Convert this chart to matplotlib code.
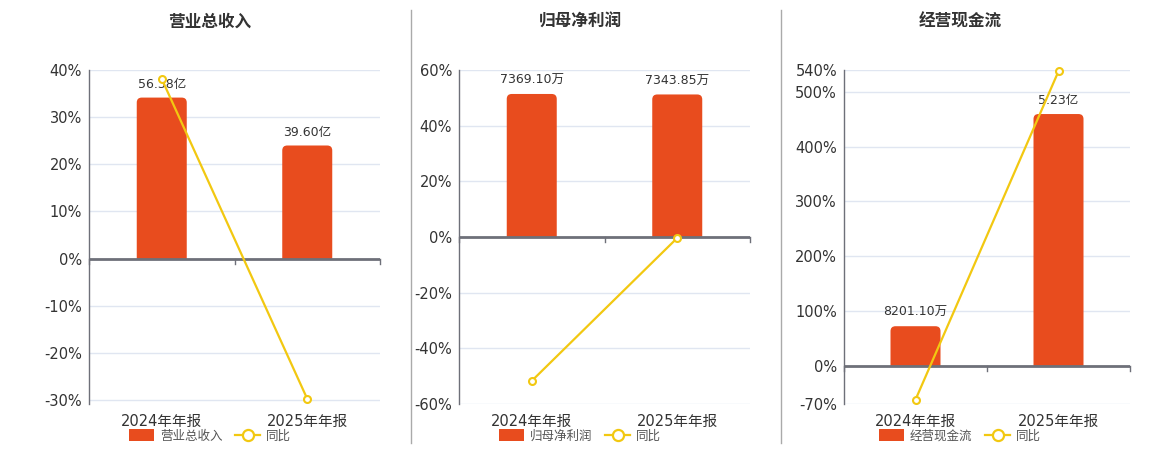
import numpy as np
import matplotlib
matplotlib.use("Agg")
import matplotlib.pyplot as plt
from matplotlib.patches import FancyBboxPatch, Rectangle
from matplotlib.lines import Line2D

plt.rcParams['font.family'] = ['DejaVu Sans', 'Noto Sans CJK SC']

categories = ["2024年年报", "2025年年报"]

# values in 万元
revenue = [563800.0, 396000.0]
revenue_labels = ["56.38亿", "39.60亿"]
revenue_yoy = [38.1, -29.76]

profit = [7369.10, 7343.85]
profit_labels = ["7369.10万", "7343.85万"]
profit_yoy = [-51.7, -0.34]

cashflow = [8201.10, 52300.0]
cashflow_labels = ["8201.10万", "5.23亿"]
cashflow_yoy = [-62.1, 537.7]

titles = ["营业总收入", "归母净利润", "经营现金流"]

BAR = "#E84C1E"
LINE = "#F2C811"
GRID = "#E0E6F1"
AXIS = "#6E7079"
TXT = "#333333"

W, H = 1160, 450
fig = plt.figure(figsize=(W / 100, H / 100), dpi=100)

panels = [
    dict(name=titles[0], vals=revenue, labels=revenue_labels, yoy=revenue_yoy,
         ylim=(-30.85, 40), ticks=[-30, -20, -10, 0, 10, 20, 30, 40], scale=16510,
         left=89, right=380, center=210),
    dict(name=titles[1], vals=profit, labels=profit_labels, yoy=profit_yoy,
         ylim=(-60, 60), ticks=[-60, -40, -20, 0, 20, 40, 60], scale=143.4,
         left=459, right=750, center=580),
    dict(name=titles[2], vals=cashflow, labels=cashflow_labels, yoy=cashflow_yoy,
         ylim=(-70, 540), ticks=[-70, 0, 100, 200, 300, 400, 500, 540], scale=113.8,
         left=844, right=1130, center=960),
]

top_px, bot_px = 70, 404
x = np.arange(len(categories))

for p in panels:
    pos = [p['left'] / W, 1 - bot_px / H, (p['right'] - p['left']) / W, (bot_px - top_px) / H]
    ax = fig.add_axes(pos)
    ax.set_xlim(-0.5, 1.5)
    ax.set_ylim(*p['ylim'])
    ax.set_yticks(p['ticks'])
    ax.set_yticklabels([f"{t}%" for t in p['ticks']], fontsize=10.5, color=TXT)
    ax.tick_params(axis='y', length=0, pad=5)
    ax.set_xticks(x)
    ax.set_xticklabels(categories, fontsize=10.5, color=TXT)
    ax.tick_params(axis='x', length=0, pad=7)
    for t in p['ticks']:
        if t != 0:
            ax.axhline(t, color=GRID, lw=1, zorder=0)
    for s in ['top', 'right', 'bottom']:
        ax.spines[s].set_visible(False)
    ax.spines['left'].set_color(AXIS)
    ax.spines['left'].set_linewidth(1)

    # bars on a hidden axis, zero aligned with percent axis
    axb = ax.twinx()
    axb.set_ylim(p['ylim'][0] * p['scale'], p['ylim'][1] * p['scale'])
    axb.set_xlim(-0.5, 1.5)
    axb.axis('off')
    ax_px_w = p['right'] - p['left']
    ax_px_h = bot_px - top_px
    xper = 2 / ax_px_w
    yper = (axb.get_ylim()[1] - axb.get_ylim()[0]) / ax_px_h
    bw = 50 * xper
    r = 5 * xper
    for xi, v, lab in zip(x, p['vals'], p['labels']):
        patch = FancyBboxPatch((xi - bw / 2, -6 * yper), bw, v + 6 * yper,
                               boxstyle=f"round,pad=0,rounding_size={r}",
                               mutation_aspect=yper / xper,
                               fc=BAR, ec='none', zorder=2)
        axb.add_patch(patch)
        clip = Rectangle((xi - bw, 0), 2 * bw, v * 2, transform=axb.transData)
        patch.set_clip_path(clip)
        axb.annotate(lab, (xi, v), xytext=(0, 5), textcoords='offset points',
                     ha='center', va='bottom', fontsize=9, color=TXT, zorder=3)
    axb.axhline(0, color=AXIS, lw=2, zorder=4)
    tick_len = 5 * yper
    for xt in [-0.5, 0.5, 1.5]:
        axb.plot([xt, xt], [0, -tick_len], color=AXIS, lw=1, zorder=4, clip_on=False)

    # yoy line
    axl = ax.twinx()
    axl.set_ylim(*p['ylim'])
    axl.set_xlim(-0.5, 1.5)
    axl.axis('off')
    axl.plot(x, p['yoy'], color=LINE, lw=1.6, marker='o', ms=5, mfc='white',
             mec=LINE, mew=1.5, zorder=5, clip_on=False)

    fig.text(p['center'] / W, 1 - 22 / H, p['name'], ha='center', va='center',
             fontsize=12, fontweight='bold', color=TXT)

    handles = [FancyBboxPatch((0, 0), 1, 1, boxstyle="round,pad=0,rounding_size=0.2",
                              fc=BAR, ec='none'),
               Line2D([0], [0], color=LINE, lw=1.6, marker='o', ms=8, mfc='white',
                      mec=LINE, mew=1.6)]
    fig.legend(handles, [p['name'], "同比"], loc='center',
               bbox_to_anchor=(p['center'] / W, 1 - 436 / H), ncol=2, frameon=False,
               fontsize=9, labelcolor='#555555', handlelength=2.0, handleheight=1.1,
               columnspacing=1.0, handletextpad=0.5)

for xs in [411, 781]:
    fig.add_artist(Line2D([xs / W, xs / W], [1 - 10 / H, 1 - 443 / H],
                          color='#AAAAAA', lw=1))

fig.savefig("out.png", dpi=100)
